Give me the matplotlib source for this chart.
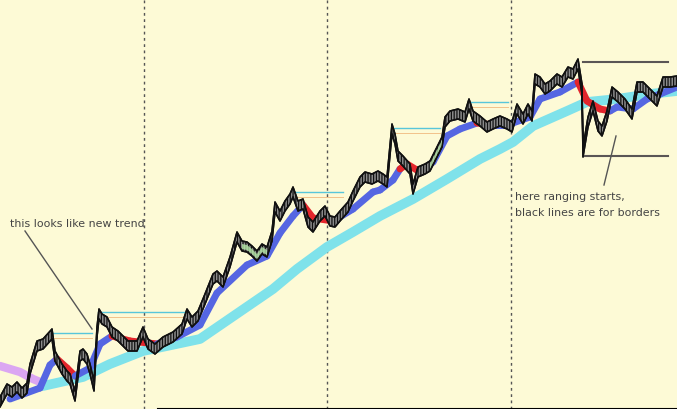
import numpy as np
import matplotlib
matplotlib.use("Agg")
import matplotlib.pyplot as plt

# price path (x = bar position, y = screen level, 0 at top)
price_x = [0, 7, 12, 17, 22, 27, 30, 37, 43, 52, 55, 62, 67, 70, 75, 80, 83, 87, 90, 94,
           97, 99, 102, 107, 112, 118, 128, 137, 143, 148, 155, 163, 173, 182, 187, 192,
           198, 205, 213, 217, 223, 230, 237, 242, 247, 252, 257, 262, 267, 272, 275, 280,
           285, 290, 293, 298, 303, 308, 313, 320, 325, 330, 335, 340, 348, 353, 360, 365,
           372, 378, 383, 387, 392, 395, 398, 403, 410, 413, 418, 425, 430, 437, 442, 445,
           450, 458, 465, 469, 473, 480, 487, 493, 500, 507, 512, 517, 523, 528, 532, 535,
           540, 545, 550, 557, 562, 568, 573, 578, 582, 583, 588, 593, 598, 602, 607, 612,
           618, 625, 632, 637, 643, 652, 657, 663, 670, 677]
price_y = [403, 390, 393, 388, 394, 389, 370, 347, 345, 335, 357, 370, 377, 380, 397, 357, 355, 360, 370, 387,
           333, 315, 320, 323, 333, 337, 347, 347, 333, 345, 350, 343, 338, 330, 315, 323,
           317, 300, 280, 277, 283, 263, 238, 247, 248, 252, 257, 250, 253, 237, 208, 217,
           207, 200, 193, 207, 205, 223, 228, 217, 212, 222, 223, 217, 208, 197, 183, 178,
           180, 177, 180, 183, 130, 140, 157, 162, 170, 190, 173, 170, 167, 153, 143, 123,
           117, 115, 118, 105, 117, 122, 128, 125, 122, 125, 128, 110, 120, 110, 117, 80,
           83, 90, 87, 80, 83, 73, 75, 65, 90, 153, 123, 107, 127, 132, 117, 93,
           98, 105, 115, 88, 88, 97, 102, 83, 83, 82]

# fast average, with its state (b = rising, r = falling)
ma_x = [10, 40, 50, 57, 67, 75, 90, 100, 112, 130, 157, 177, 200, 217, 247, 267, 280, 293,
        303, 313, 333, 353, 373, 380, 393, 400, 407, 420, 433, 447, 460, 477, 493, 507,
        530, 540, 560, 578, 587, 600, 610, 617, 633, 647, 660, 677]
ma_y = [400, 389, 366, 360, 369, 377, 369, 345, 337, 342, 345, 338, 326, 294, 266, 257, 234, 217,
        206, 219, 222, 210, 193, 191, 181, 170, 165, 173, 163, 137, 130, 124, 126, 126,
        118, 100, 93, 83, 102, 110, 112, 108, 110, 100, 95, 88]
ma_state = ["b", "b", "b", "r", "r", "b", "b", "b", "r", "r", "b", "b", "b", "b", "b", "b", "b", "b",
            "r", "r", "b", "b", "b", "b", "b", "r", "r", "b", "b", "b", "b", "r", "b", "b",
            "b", "b", "b", "r", "r", "r", "b", "b", "b", "b", "b", "b"]

# slow average
slow_x = [43, 83, 110, 143, 167, 200, 273, 297, 327, 353, 380, 413, 447, 480, 500, 513,
          533, 567, 587, 617, 650, 677]
slow_y = [387, 378, 365, 352, 347, 340, 290, 270, 248, 233, 217, 200, 180, 160, 150, 143,
          127, 112, 103, 100, 95, 92]

# older average at the far left
old_x = [0, 20, 33, 45]
old_y = [367, 373, 380, 385]

# breakout levels (start, end, level)
levels = [(50, 92, 334), (98, 187, 313), (293, 343, 193), (392, 440, 129), (468, 508, 103)]
# range borders
borders = [(583, 668, 63), (585, 668, 157)]
# session separators
sessions = [144, 327, 511]

green_spans = [(238, 268), (428, 442), (476, 486)]

fig = plt.figure(figsize=(6.77, 4.10), dpi=100)
ax = fig.add_axes([0, 0, 1, 1])
ax.set_facecolor("#fdfad6")
ax.set_xlim(0, 677)
ax.set_ylim(410, 0)
ax.axis("off")
fig.patch.set_facecolor("#fdfad6")
plt.rcParams["hatch.linewidth"] = 0.9

for xs in sessions:
    ax.axvline(xs, color="#555555", lw=1, ls=(0, (2, 2.5)), zorder=1)

ax.plot(old_x, old_y, color="#dba6f2", lw=6, solid_capstyle="round", zorder=2)
ax.plot(slow_x, slow_y, color="#7fe2ea", lw=7, solid_capstyle="round", zorder=3)

for x0, x1, lv in levels:
    ax.plot([x0, x1], [lv, lv], color="#58c6da", lw=1, zorder=2)
    ax.plot([x0, x1], [lv + 5, lv + 5], color="#f2c28a", lw=0.7, zorder=2)

cols = {"b": "#5566e2", "r": "#e3262c"}
for i in range(len(ma_x) - 1):
    ax.plot(ma_x[i:i + 2], ma_y[i:i + 2], color=cols[ma_state[i]], lw=5,
            solid_capstyle="round", zorder=4)

px = np.array(price_x)
py = np.array(price_y)
ax.fill_between(px, py - 5, py + 5, facecolor="#8c8c8c", edgecolor="#111111",
                hatch="||||||", lw=1.1, zorder=5)
for a, b in green_spans:
    m = (px >= a) & (px <= b)
    ax.fill_between(px[m], py[m] - 2, py[m] + 3, facecolor="#b6e8a8", lw=0, zorder=6, alpha=0.8)
ax.plot(px, py - 5, color="#111111", lw=1.1, zorder=6)
ax.plot(px, py + 5, color="#111111", lw=1.1, zorder=6)

for x0, x1, lv in borders:
    ax.plot([x0, x1], [lv, lv], color="#5a5555", lw=1.5, zorder=7)

ax.text(10, 224, "this looks like new trend", fontsize=7.9, color="#444444",
        va="center", ha="left", zorder=8)
ax.plot([25, 92], [232, 330], color="#555555", lw=1, zorder=8)

ax.text(515, 197, "here ranging starts,", fontsize=7.9, color="#444444",
        va="center", ha="left", zorder=8)
ax.text(515, 213, "black lines are for borders", fontsize=7.9, color="#444444",
        va="center", ha="left", zorder=8)
ax.plot([616, 604], [137, 186], color="#555555", lw=1, zorder=8)

ax.plot([158, 677], [409.5, 409.5], color="black", lw=1.5, zorder=9)

fig.savefig("out.png", dpi=100, facecolor=fig.get_facecolor())
